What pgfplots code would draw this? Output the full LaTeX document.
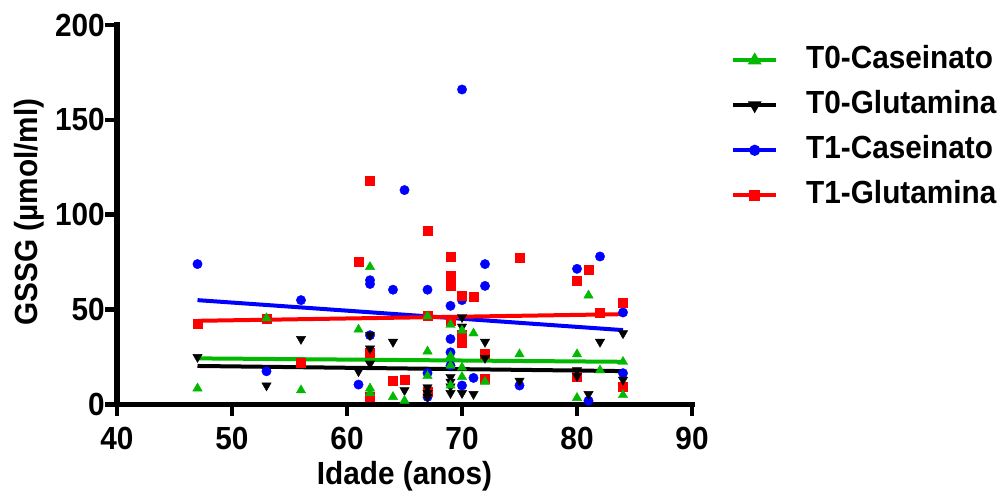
\documentclass[border=0pt]{standalone}
\usepackage{fontspec}
\setmainfont{Liberation Sans}[FakeStretch=0.93]
\usepackage{pgfplots}
\pgfplotsset{compat=1.18}
\definecolor{gpgreen}{RGB}{0,185,0}
\newcommand{\bigfont}{\fontsize{32bp}{32bp}\selectfont\bfseries}
\begin{document}
\begin{tikzpicture}[x=1bp,y=1bp]
\useasboundingbox (0,0) rectangle (1005,492);
\begin{axis}[
  at={(117bp,87.5bp)}, anchor=south west,
  scale only axis, width=575bp, height=379.5bp,
  xmin=40, xmax=90, ymin=0, ymax=200,
  axis x line*=bottom, axis y line*=left,
  axis line style={line width=5.5bp, -, line cap=rect},
  xtick={40,50,...,90}, ytick={0,50,...,200},
  tick align=outside, major tick length=12bp,
  tick style={line width=4.5bp, black},
  /pgf/number format/assume math mode=true,
  tick label style={font=\bigfont, inner sep=0pt},
  xticklabel style={anchor=north, text height=23bp, text depth=0bp, yshift=-10bp},
  yticklabel style={anchor=east},
  xlabel={Idade (anos)},
  ylabel={GSSG (µmol/ml)},
  label style={font=\bigfont, inner sep=0pt},
  xlabel style={at={(axis description cs:0.5,-0.2095)}, anchor=base},
  ylabel style={at={(axis description cs:-0.139,0.507)}, anchor=base, rotate=0},
  clip=false,
  legend image code/.code={
    \draw[mark repeat=2, mark phase=2, #1] plot coordinates {(0bp,0bp) (21.5bp,0bp) (43bp,0bp)};
  },
  legend style={at={(axis description cs:1.0678,0.947)}, anchor=north west,
    draw=none, fill=none, inner sep=0pt, row sep=15bp, column sep=28bp,
    font=\bigfont,
    nodes={inner sep=0pt, text height=23bp, text depth=7bp}},
  legend cell align=left,
]
% T1-Caseinato
\addplot[forget plot, only marks, mark=*, blue, mark size=4.7bp] coordinates {
(47,74) (53,17.5) (56,55) (61,10.5) (62,63.5) (62,65.5) (62,36.5) (64,60.5)
(65,113) (67,60.5) (67,16.5) (67,4) (69,52) (69,34.5) (69,27.5) (69,20.5)
(70,166) (70,55) (70,10) (71,14) (72,74) (72,62.5) (75,10) (80,71.5)
(81,2) (82,78) (84,48.5) (84,16.5)};
% T1-Glutamina
\addplot[forget plot, only marks, mark=square*, red, mark size=4.5bp] coordinates {
(47,42.5) (53,45) (56,22) (61,75.5) (62,118) (62,27.5) (62,4) (64,12.5)
(65,13) (67,91.5) (67,47) (67,7) (69,78) (69,68) (69,62.5) (69,44)
(70,57.5) (70,37) (70,32.5) (71,57) (72,27) (72,13.5) (75,77.5) (80,65)
(80,14.5) (81,71) (82,48.5) (84,53.5) (84,9.5)};
% T0-Glutamina
\addplot[forget plot, only marks, mark=triangle*, black, mark size=5.4bp, mark options={rotate=180}] coordinates {
(47,25) (53,10) (56,34.5) (61,17.5) (62,36.5) (62,29.5) (62,21.5) (64,33)
(65,7.5) (67,9) (67,6) (67,4) (69,14.5) (69,12) (69,9.5) (69,6)
(70,46) (70,41) (70,6) (71,5.5) (72,33) (72,24.5) (75,12.5) (80,18)
(80,15) (81,5.5) (82,33) (84,37.5) (84,13)};
% T0-Caseinato
\addplot[forget plot, only marks, mark=triangle*, gpgreen, mark size=5.4bp] coordinates {
(47,8.5) (53,45.5) (56,7.5) (61,39.5) (62,72.5) (62,8.5) (62,6) (64,4)
(65,2) (67,46.5) (67,28) (67,15) (69,42) (69,25.5) (69,20.5) (69,10)
(70,39) (70,19.5) (70,14.5) (71,37.5) (72,12) (75,26.5) (80,26.5) (80,3.5)
(81,57.5) (82,18) (84,22.5) (84,5)};
% regression lines
\addplot[forget plot, blue, line width=4bp] coordinates {(47,55) (84,39.2)};
\addplot[forget plot, red, line width=4bp] coordinates {(47,44.1) (84,47.6)};
\addplot[forget plot, black, line width=4bp] coordinates {(47,20.3) (84,17.6)};
\addplot[forget plot, gpgreen, line width=4bp] coordinates {(47,24.3) (84,22.5)};
% legend
\addlegendimage{gpgreen, line width=4bp, mark=triangle*, mark size=4bp}
\addlegendentry{T0-Caseinato}
\addlegendimage{black, line width=4bp, mark=triangle*, mark size=4bp, mark options={rotate=180}}
\addlegendentry{T0-Glutamina}
\addlegendimage{blue, line width=4bp, mark=*, mark size=3.5bp}
\addlegendentry{T1-Caseinato}
\addlegendimage{red, line width=4bp, mark=square*, mark size=3.5bp}
\addlegendentry{T1-Glutamina}
\end{axis}
\end{tikzpicture}
\end{document}
